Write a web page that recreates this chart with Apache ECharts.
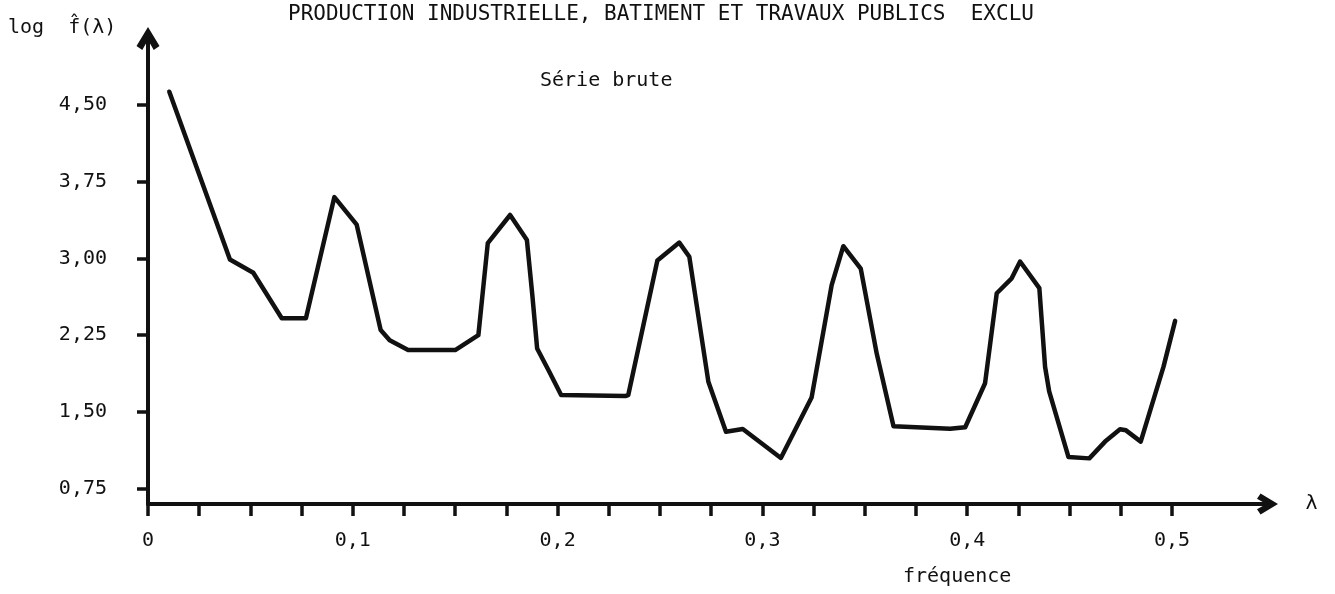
<!DOCTYPE html>
<html>
<head>
<meta charset="utf-8">
<script src="https://cdn.jsdelivr.net/npm/echarts@6/dist/echarts.min.js"></script>
<style>
  html, body { margin: 0; padding: 0; background: #fff; }
  #chart { width: 1335px; height: 594px; }
</style>
</head>
<body>
<div id="chart"></div>
<script>
// Log spectral density estimate of the raw series, by frequency
const frequencies = [
  0.0104, 0.040, 0.0514, 0.0653, 0.0771, 0.091, 0.1019, 0.1136, 0.118, 0.127,
  0.150, 0.1613, 0.1659, 0.1768, 0.185, 0.1877, 0.190, 0.196, 0.2017, 0.233,
  0.2345, 0.2487, 0.2594, 0.2643, 0.2736, 0.2822, 0.2904, 0.309, 0.324, 0.3338,
  0.3395, 0.348, 0.3558, 0.364, 0.3916, 0.399, 0.4087, 0.4144, 0.4217, 0.4258,
  0.4352, 0.438, 0.440, 0.4494, 0.4596, 0.4673, 0.4746, 0.4775, 0.4847, 0.4958,
  0.5015
];
const logSpectrum = [
  4.63, 2.99, 2.86, 2.415, 2.415, 3.60, 3.33, 2.30, 2.20, 2.105,
  2.105, 2.25, 3.15, 3.425, 3.18, 2.63, 2.12, 1.89, 1.665, 1.655,
  1.665, 2.98, 3.155, 3.017, 1.795, 1.307, 1.333, 1.05, 1.64, 2.74,
  3.12, 2.90, 2.07, 1.36, 1.335, 1.35, 1.78, 2.66, 2.806, 2.97,
  2.71, 1.94, 1.70, 1.06, 1.046, 1.21, 1.33, 1.32, 1.21, 1.94,
  2.39
];

// Axis ticks and labels
const yTickValues = [0.75, 1.50, 2.25, 3.00, 3.75, 4.50];
const xLabelValues = [0, 0.1, 0.2, 0.3, 0.4, 0.5];
const xTickValues = [
  0, 0.025, 0.05, 0.075, 0.1, 0.125, 0.15, 0.175, 0.2, 0.225, 0.25,
  0.275, 0.3, 0.325, 0.35, 0.375, 0.4, 0.425, 0.45, 0.475, 0.5
];

const titleText = 'PRODUCTION INDUSTRIELLE, BATIMENT ET TRAVAUX PUBLICS  EXCLU';
const subtitleText = 'Série brute';
const yName = 'log  f\u0302(λ)';
const xName = 'λ';
const xCaption = 'fréquence';

const FONT = '"DejaVu Sans Mono", "Liberation Mono", monospace';
const INK = '#111';

// Heavy open chevron arrowhead, pointing up in its own frame
const chevron = 'path://M0,8.3 L5,0 L10,8.3 L7.5,10 L5,5.6 L2.5,10 Z';

const chart = echarts.init(document.getElementById('chart'), null, { renderer: 'canvas' });

chart.setOption({
  backgroundColor: '#fff',
  animation: false,
  title: {
    text: titleText,
    left: 283,
    top: -1,
    textStyle: { fontFamily: FONT, fontSize: 21, fontWeight: 'normal', color: INK }
  },
  grid: { left: 148, right: 67.5, top: 38.5, bottom: 90, containLabel: false },
  xAxis: {
    type: 'value',
    min: 0,
    max: 0.5466,
    name: xName,
    nameLocation: 'end',
    nameGap: 38,
    nameTextStyle: { fontFamily: FONT, fontSize: 20, color: INK, verticalAlign: 'middle', padding: [6, 0, 0, 0] },
    axisLine: {
      show: true,
      onZero: false,
      symbol: ['none', chevron],
      symbolSize: [21, 21],
      lineStyle: { color: INK, width: 4 }
    },
    axisTick: {
      show: true,
      inside: false,
      length: 12,
      customValues: xTickValues,
      lineStyle: { color: INK, width: 3.5 }
    },
    axisLabel: {
      customValues: xLabelValues,
      margin: 27,
      fontFamily: FONT,
      fontSize: 20,
      color: INK,
      formatter: v => (v === 0 ? '0' : v.toFixed(1).replace('.', ','))
    },
    splitLine: { show: false }
  },
  yAxis: {
    type: 'value',
    min: 0.6,
    max: 5.15,
    axisLine: {
      show: true,
      onZero: false,
      symbol: ['none', chevron],
      symbolSize: [23, 23],
      lineStyle: { color: INK, width: 4 }
    },
    axisTick: {
      show: true,
      inside: false,
      length: 11,
      customValues: yTickValues,
      lineStyle: { color: INK, width: 3.5 }
    },
    axisLabel: {
      customValues: yTickValues,
      margin: 41,
      fontFamily: FONT,
      fontSize: 20,
      color: INK,
      formatter: v => v.toFixed(2).replace('.', ',')
    },
    splitLine: { show: false }
  },
  graphic: [
    {
      type: 'text',
      left: 8,
      top: 18,
      style: { text: yName, font: '20px ' + FONT, fill: INK }
    },
    {
      type: 'text',
      left: 540,
      top: 71,
      style: { text: subtitleText, font: '20px ' + FONT, fill: INK }
    },
    {
      type: 'text',
      left: 903,
      top: 567,
      style: { text: xCaption, font: '20px ' + FONT, fill: INK }
    }
  ],
  series: [
    {
      type: 'line',
      data: frequencies.map((f, i) => [f, logSpectrum[i]]),
      showSymbol: false,
      smooth: false,
      lineStyle: { color: INK, width: 4.5, join: 'round', cap: 'round' }
    }
  ]
});
</script>
</body>
</html>
